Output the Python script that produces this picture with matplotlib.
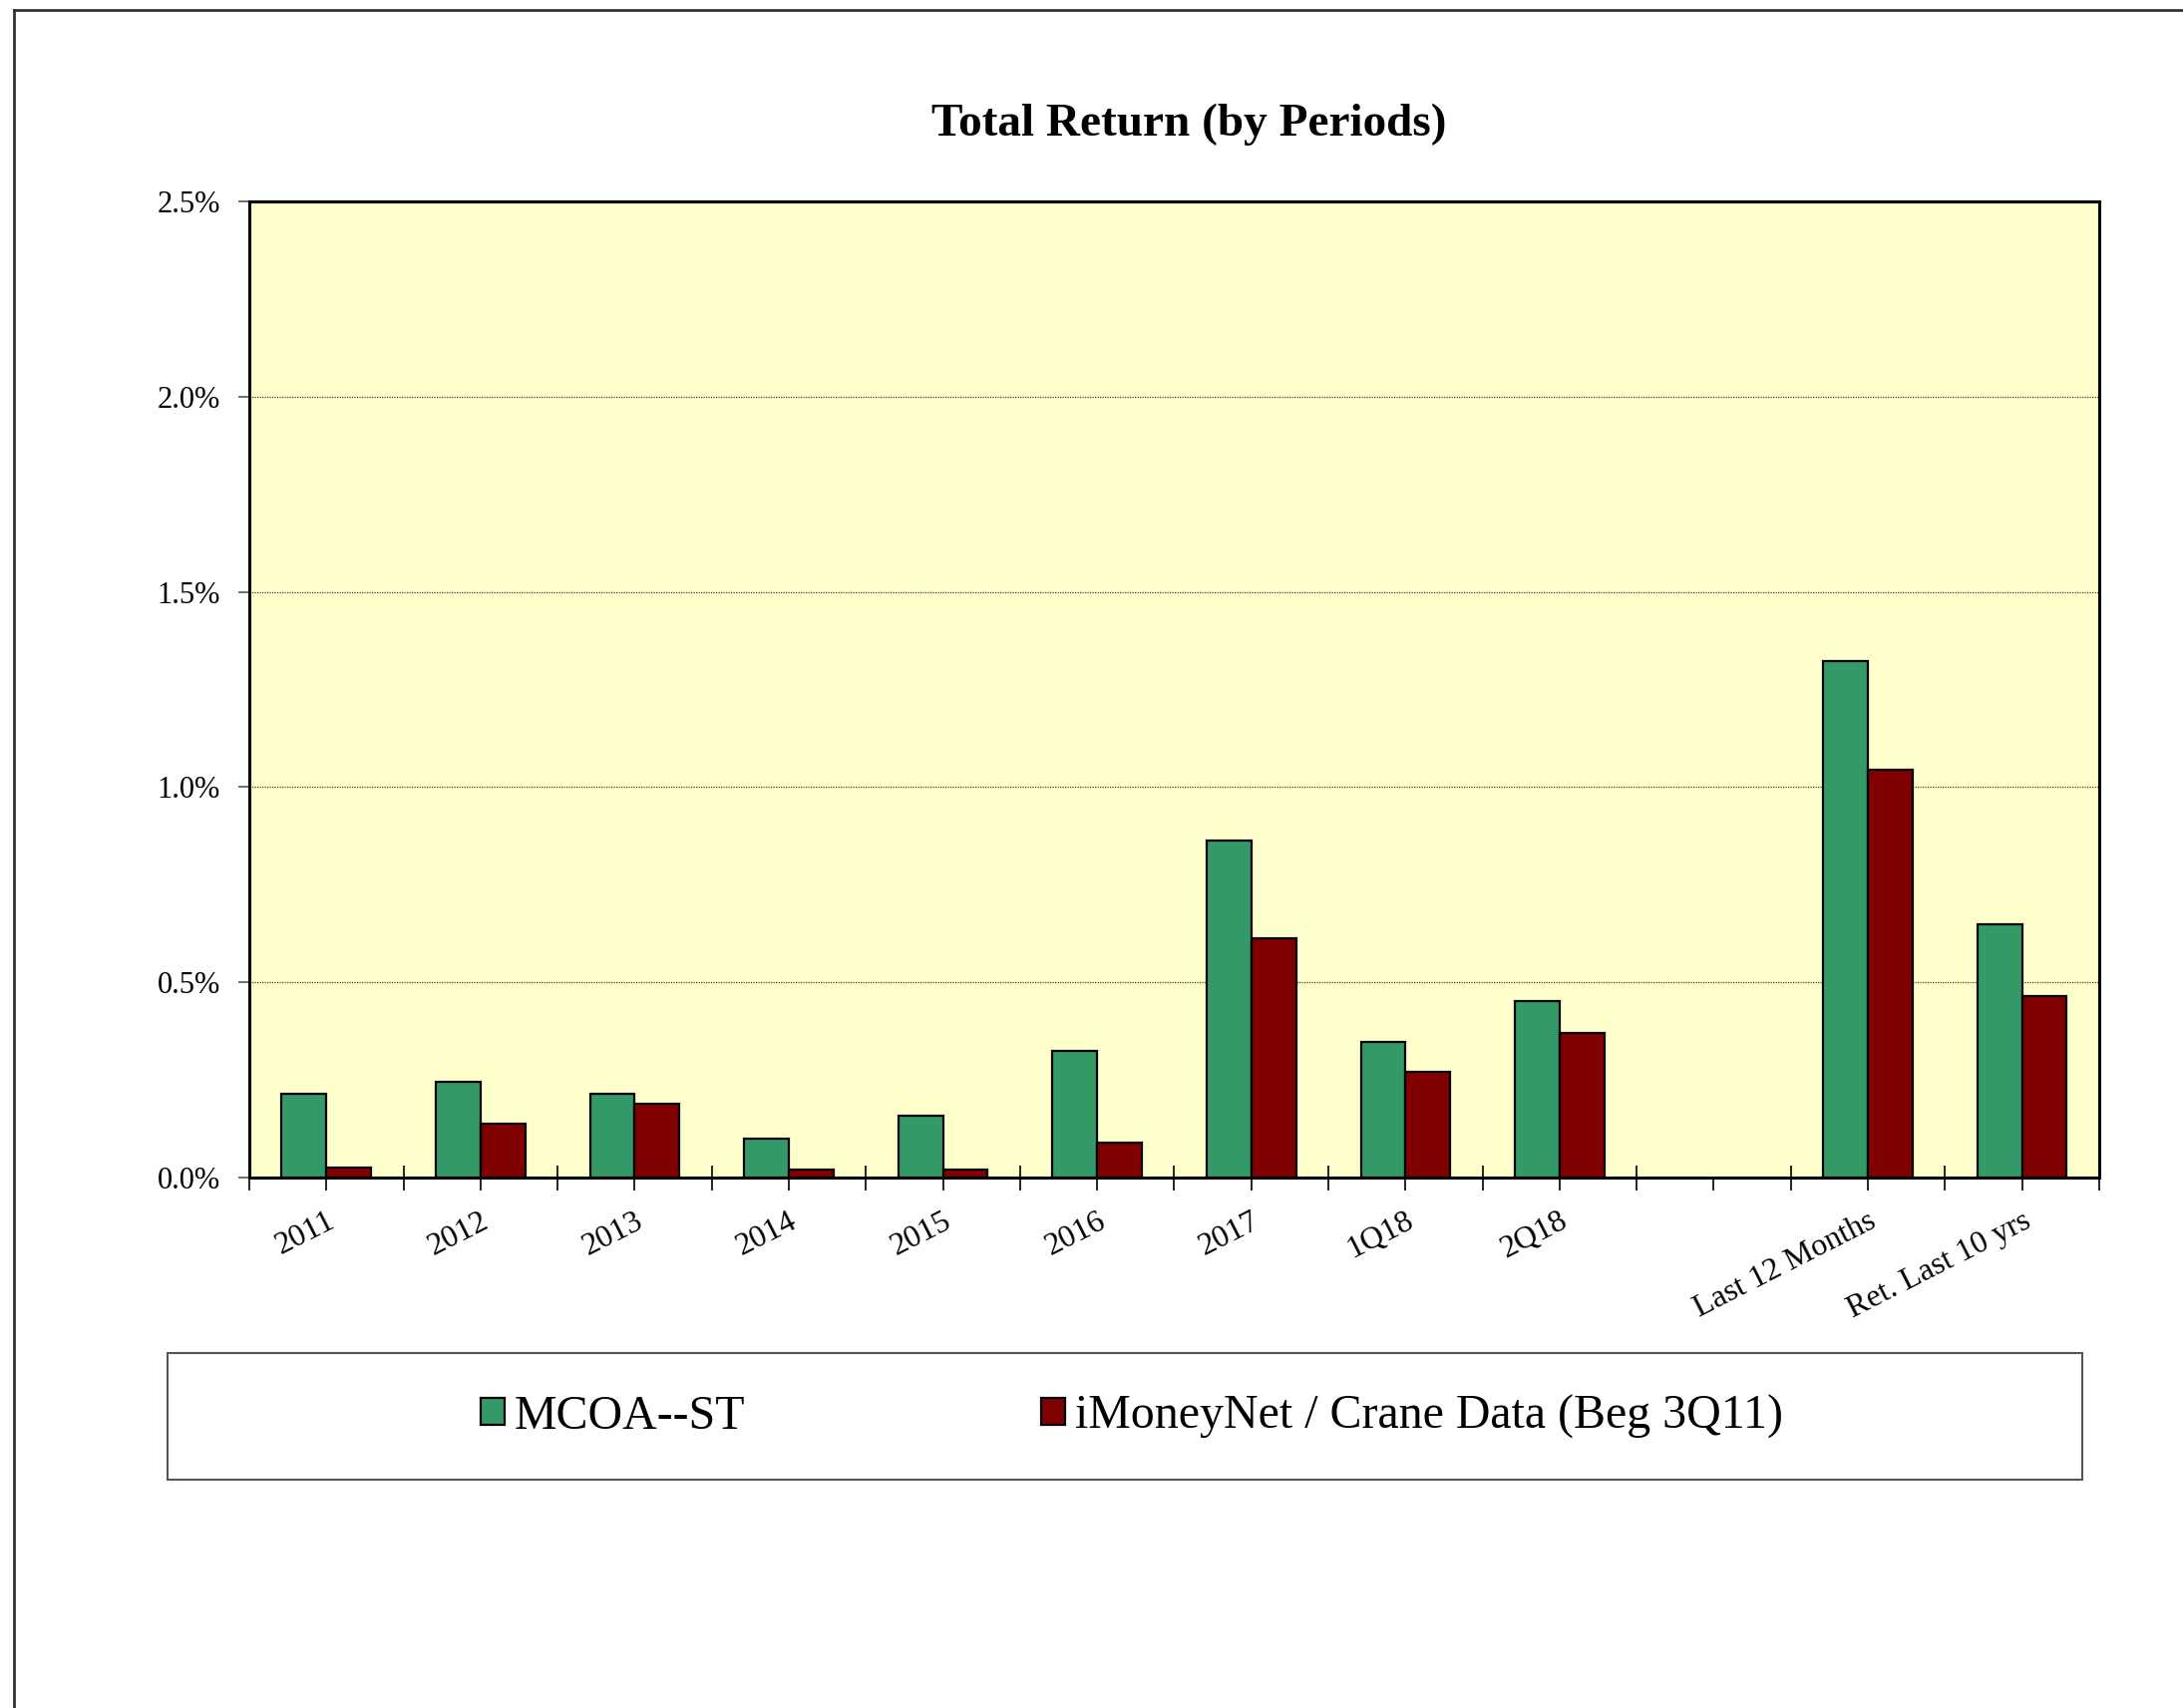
#Total Return (by Periods) bar chart
import numpy as np
import matplotlib
matplotlib.use("Agg")
import matplotlib.pyplot as plt
from matplotlib.patches import Rectangle
from matplotlib.lines import Line2D

#data (percent)
periods = ["2011", "2012", "2013", "2014", "2015", "2016", "2017", "1Q18", "2Q18",
           "", "Last 12 Months", "Ret. Last 10 yrs"]
mcoa = [0.214, 0.246, 0.214, 0.100, 0.157, 0.325, 0.863, 0.346, 0.453,
        np.nan, 1.323, 0.649]
imoney = [0.025, 0.139, 0.189, 0.021, 0.021, 0.089, 0.613, 0.271, 0.371,
          np.nan, 1.045, 0.464]
series_names = ["MCOA--ST", "iMoneyNet / Crane Data (Beg 3Q11)"]
yticks = [0.0, 0.5, 1.0, 1.5, 2.0, 2.5]

plt.rcParams['font.family'] = ['Liberation Serif', 'DejaVu Serif']

fig = plt.figure(figsize=(21.89, 17.13), dpi=100)
ax = fig.add_axes([0.1142, 0.3106, 0.8474, 0.5714])
ax.set_facecolor("#FFFFCC")

x = np.arange(len(periods))
w = 0.29
ax.bar(x - w / 2, mcoa, w, color="#339966", edgecolor="black", linewidth=1.6,
       label=series_names[0], zorder=3)
ax.bar(x + w / 2, imoney, w, color="#800000", edgecolor="black", linewidth=1.6,
       label=series_names[1], zorder=3)

#axis limits and ticks
ax.set_xlim(-0.5, len(periods) - 0.5)
ax.set_ylim(0, 2.5)
ax.set_yticks(yticks)
ax.set_yticklabels(["%.1f%%" % v for v in yticks], fontsize=22)
ax.tick_params(axis="y", direction="out", length=8, width=1.2, color="#555555", pad=13)

#major ticks on boundaries, labels on the centers
ax.set_xticks(np.arange(-0.5, len(periods), 1.0))
ax.set_xticklabels([])
ax.tick_params(axis="x", which="major", direction="inout", length=18, width=1.2)
ax.set_xticks(x, minor=True)
ax.set_xticklabels(periods, minor=True, rotation=27, ha="right",
                   rotation_mode="anchor", fontsize=23)
ax.tick_params(axis="x", which="minor", direction="out", length=9, width=1.2, pad=12)

#dotted gridlines
ax.grid(axis="y", linestyle=(0, (1, 1)), color="#444444", linewidth=0.9, zorder=0)
ax.set_axisbelow(True)

for s in ax.spines.values():
    s.set_linewidth(2.2)
    s.set_color("black")

#title
fig.text(0.5445, 0.927, "Total Return (by Periods)", ha="center", va="center",
         fontsize=34, fontweight="bold")

#legend with its own box
fig.patches.append(Rectangle((0.0767, 0.1337), 0.877, 0.0741, transform=fig.transFigure,
                             fill=False, edgecolor="#555555", linewidth=1.5))
handles, labels = ax.get_legend_handles_labels()
fig.legend(handles, labels, loc="center", bbox_to_anchor=(0.5185, 0.1705), ncol=2,
           frameon=False, fontsize=34.5, handlelength=0.5, handleheight=0.5,
           handletextpad=0.2, columnspacing=6.2)

#outer border (left and top)
fig.add_artist(Line2D([0.0064, 0.0064], [0.0, 0.9942], transform=fig.transFigure,
                      color="#333333", linewidth=2))
fig.add_artist(Line2D([0.0064, 1.0], [0.9942, 0.9942], transform=fig.transFigure,
                      color="#333333", linewidth=2))

fig.savefig("out.png", dpi=100)
